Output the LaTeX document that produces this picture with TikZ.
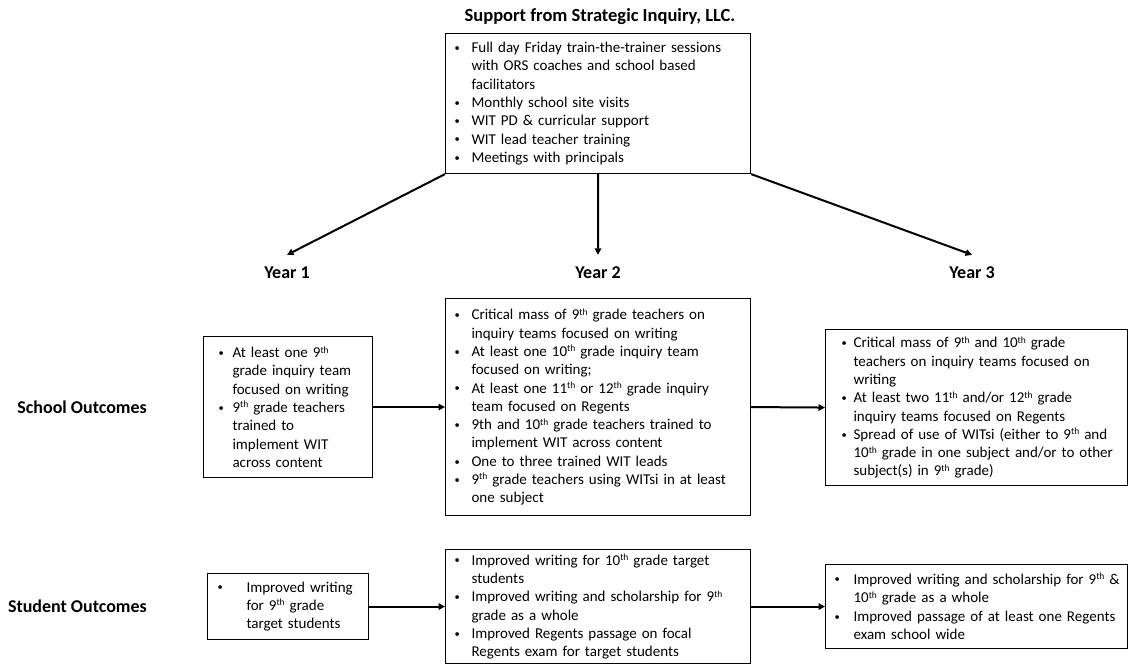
\documentclass[tikz,border=0pt]{standalone}
\usepackage{fontspec}
\setmainfont{Carlito}
\usetikzlibrary{arrows.meta}
\newlength\bulA
\newlength\bulW
\newcommand\setbul[2]{\setlength\bulA{#1}\setlength\bulW{#2}}
\newcommand\mybul{\raisebox{1.2pt}{\fontsize{10.5}{10}\selectfont\textbullet}}
\newcommand\bi[1]{\hspace*{\bulA}\makebox[\bulW][l]{\mybul}\mbox{#1}}
\newcommand\bc[1]{\hspace*{\bulA}\hspace*{\bulW}\mbox{#1}}
\newcommand\sth[1]{#1\raisebox{4.6pt}{\fontsize{9.5}{9}\selectfont th}}
\tikzset{
  obox/.style={draw, line width=1.1pt, inner sep=0pt, anchor=north west, align=left,
    font=\fontsize{15}{18.3}\selectfont},
  lbl/.style={font=\bfseries\fontsize{18}{20}\selectfont, inner sep=0pt},
  yr/.style={lbl, inner ysep=12pt},
  arr/.style={line width=2pt, -{Triangle[length=6.5pt,width=6.5pt]}},
}
\begin{document}
\begin{tikzpicture}[x=1pt,y=-1pt]
\useasboundingbox (0,0) rectangle (1128,664);
\node[lbl, font=\bfseries\fontsize{18.5}{20}\selectfont] (title) at (600,17) {Support from Strategic Inquiry, LLC.};
\node[obox, text width=305pt, minimum height=140pt] (sup) at (445,33) {\setbul{9pt}{17pt}%
\bi{Full day Friday train-the-trainer sessions}\\
\bc{with ORS coaches and school based}\\
\bc{facilitators}\\
\bi{Monthly school site visits}\\
\bi{WIT PD \& curricular support}\\
\bi{WIT lead teacher training}\\
\bi{Meetings with principals}};
\node[yr] (y1) at (287,273) {Year 1};
\node[yr] (y2) at (598,273) {Year 2};
\node[yr] (y3) at (972,273) {Year 3};
\node[lbl, anchor=east] (sch) at (147,407) {School Outcomes};
\node[lbl, anchor=east] (stu) at (147,606) {Student Outcomes};
% school outcomes
\node[obox, text width=169pt, minimum height=141pt] (s1) at (203,336) {\setbul{15pt}{14pt}%
\bi{At least one \sth{9} }\\
\bc{grade inquiry team}\\
\bc{focused on writing}\\
\bi{\sth{9} grade teachers}\\
\bc{trained to}\\
\bc{implement WIT}\\
\bc{across content}};
\node[obox, text width=305pt, minimum height=217pt] (s2) at (445,298) {\setbul{9pt}{17pt}%
\bi{Critical mass of \sth{9} grade teachers on}\\
\bc{inquiry teams focused on writing}\\
\bi{At least one \sth{10} grade inquiry team}\\
\bc{focused on writing;}\\
\bi{At least one \sth{11} or \sth{12} grade inquiry}\\
\bc{team focused on Regents}\\
\bi{9th and \sth{10} grade teachers trained to}\\
\bc{implement WIT across content}\\
\bi{One to three trained WIT leads}\\
\bi{\sth{9} grade teachers using WITsi in at least}\\
\bc{one subject}};
\node[obox, text width=302pt, minimum height=156pt] (s3) at (825,329) {\setbul{16pt}{12pt}%
\bi{Critical mass of \sth{9} and \sth{10} grade}\\
\bc{teachers on inquiry teams focused on}\\
\bc{writing}\\
\bi{At least two \sth{11} and/or \sth{12} grade}\\
\bc{inquiry teams focused on Regents}\\
\bi{Spread of use of WITsi (either to \sth{9} and}\\
\bc{\sth{10} grade in one subject and/or to other}\\
\bc{subject(s) in \sth{9} grade)}};
% student outcomes
\node[obox, text width=161pt, minimum height=66pt] (p1) at (207,573) {\setbul{10pt}{29pt}%
\bi{Improved writing}\\
\bc{for \sth{9} grade}\\
\bc{target students}};
\node[obox, text width=305pt, minimum height=114pt] (p2) at (445,549) {\setbul{9pt}{17pt}%
\bi{Improved writing for \sth{10} grade target}\\
\bc{students}\\
\bi{Improved writing and scholarship for \sth{9}}\\
\bc{grade as a whole}\\
\bi{Improved Regents passage on focal}\\
\bc{Regents exam for target students}};
\node[obox, text width=302pt, minimum height=84pt, font=\fontsize{15}{18.6}\selectfont] (p3) at (825,564) {\setbul{9pt}{19pt}%
\bi{Improved writing and scholarship for \sth{9} \&}\\
\bc{\sth{10} grade as a whole}\\
\bi{Improved passage of at least one Regents}\\
\bc{exam school wide}};
% connectors
\draw[arr] (sup.south west) -- (y1.north);
\draw[arr] (sup.south) -- (y2.north);
\draw[arr] (sup.south east) -- (y3.north);
\draw[arr] (s1.east) -- (s2.west);
\draw[arr] (s2.east) -- (s3.west);
\draw[arr] (p1.east) -- (p2.west);
\draw[arr] (p2.east) -- (p3.west);
\end{tikzpicture}
\end{document}
